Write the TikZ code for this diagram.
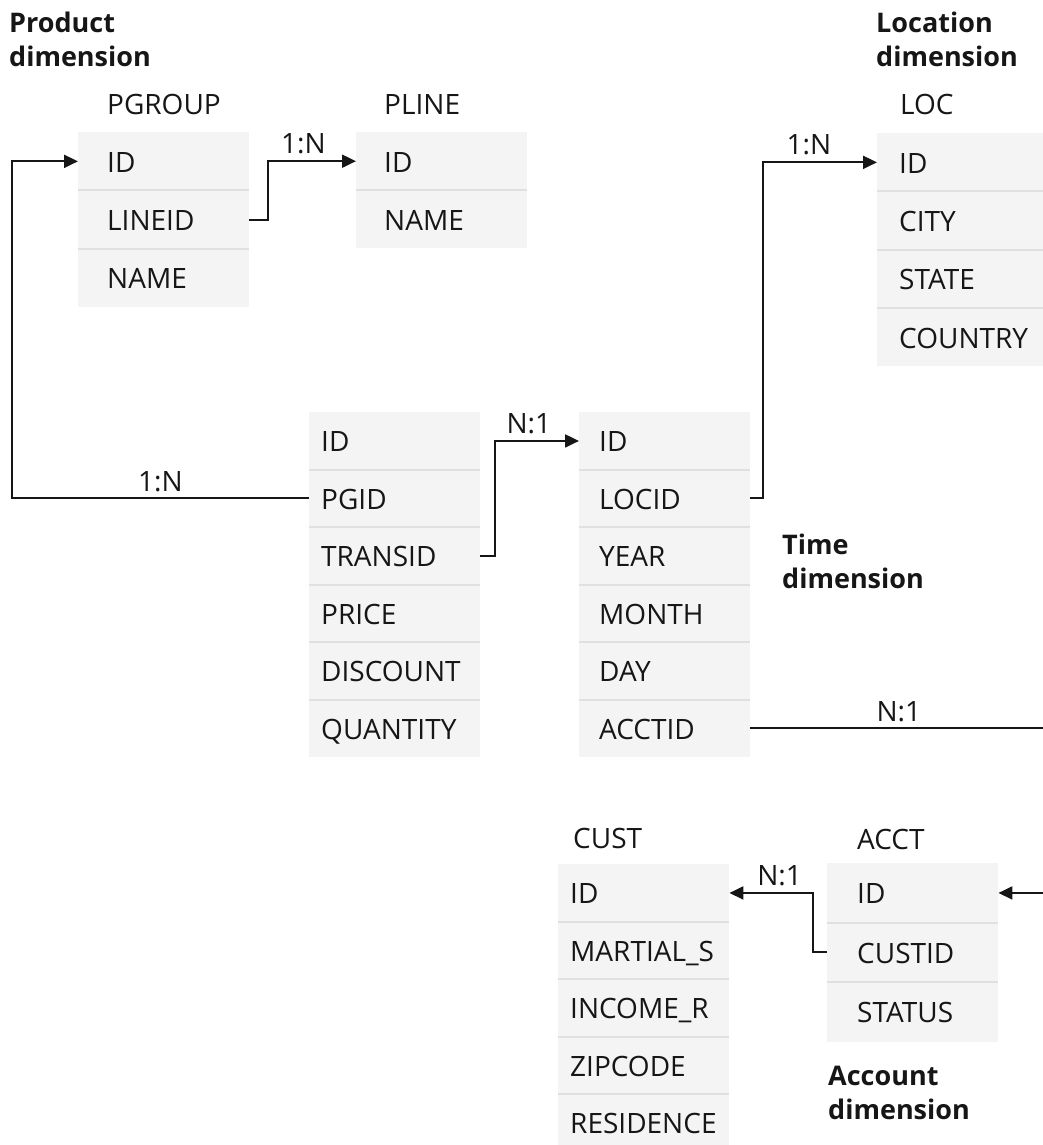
\documentclass[tikz,border=0pt]{standalone}
\usepackage{fontspec}
\setmainfont{Open Sans}
\usetikzlibrary{arrows.meta}
\definecolor{ink}{HTML}{161616}
\definecolor{rowfill}{HTML}{F4F4F4}
\definecolor{rowline}{HTML}{E0E0E0}
\tikzset{>={Triangle[length=14pt,width=13pt]},
  every node/.style={font=\fontsize{28}{32}\selectfont,text=ink},
  field/.style={fill=rowfill,anchor=north west,align=left,inner ysep=0pt,
    text height=22pt,text depth=0pt},
  sep/.style={draw=rowline,line width=2pt},
  link/.style={->,draw=ink,line width=2pt},
  card/.style={above,inner sep=6pt},
  tname/.style={anchor=base west,inner sep=0pt},
  dimlabel/.style={anchor=north west,inner sep=0pt,align=left,
    font=\fontsize{27}{34}\selectfont\bfseries}}

\begin{document}
\begin{tikzpicture}[x=1pt,y=-1pt]
\useasboundingbox (0,0) rectangle (1042,1145);
% product dimension
\node[dimlabel] (prodlbl) at (9,12) {Product\\dimension};
\node[tname] (pgname) at (107,114) {PGROUP};
\foreach \fld [count=\i] in {ID,LINEID,NAME}
  \node[field,inner xsep=29pt,text width=113pt,minimum height=58.3pt] (pg\i) at (78,{132+(\i-1)*58.3}) {\fld};
\foreach \i in {2,3} \draw[sep] (pg\i.north west) -- (pg\i.north east);
\node[tname] (plname) at (384,114) {PLINE};
\foreach \fld [count=\i] in {ID,NAME}
  \node[field,inner xsep=28pt,text width=115pt,minimum height=58pt] (pl\i) at (356,{132+(\i-1)*58}) {\fld};
\draw[sep] (pl2.north west) -- (pl2.north east);
% location dimension
\node[dimlabel] (loclbl) at (876,12) {Location\\dimension};
\node[tname] (locname) at (900,114) {LOC};
\foreach \fld [count=\i] in {ID,CITY,STATE,COUNTRY}
  \node[field,inner xsep=22pt,text width=127pt,minimum height=58.3pt] (loc\i) at (877,{133+(\i-1)*58.3}) {\fld};
\foreach \i in {2,3,4} \draw[sep] (loc\i.north west) -- (loc\i.north east);
% fact table
\foreach \fld [count=\i] in {ID,PGID,TRANSID,PRICE,DISCOUNT,QUANTITY}
  \node[field,inner xsep=12pt,text width=147pt,minimum height=57.5pt] (f\i) at (309,{412+(\i-1)*57.5}) {\fld};
\foreach \i in {2,...,6} \draw[sep] (f\i.north west) -- (f\i.north east);
% time dimension
\foreach \fld [count=\i] in {ID,LOCID,YEAR,MONTH,DAY,ACCTID}
  \node[field,inner xsep=20pt,text width=131pt,minimum height=57.5pt] (t\i) at (579,{412+(\i-1)*57.5}) {\fld};
\foreach \i in {2,...,6} \draw[sep] (t\i.north west) -- (t\i.north east);
\node[dimlabel] (timelbl) at (782,534) {Time\\dimension};
% account dimension
\node[tname] (custname) at (573,848) {CUST};
\foreach \fld [count=\i] in {ID,MARTIAL\_S,INCOME\_R,ZIPCODE,RESIDENCE}
  \node[field,inner xsep=12pt,text width=147pt,minimum height=57.5pt] (cu\i) at (558,{864+(\i-1)*57.5}) {\fld};
\foreach \i in {2,...,5} \draw[sep] (cu\i.north west) -- (cu\i.north east);
\node[tname] (acctname) at (857,849) {ACCT};
\foreach \fld [count=\i] in {ID,CUSTID,STATUS}
  \node[field,inner xsep=30pt,text width=111pt,minimum height=59.5pt] (ac\i) at (827,{863+(\i-1)*59.5}) {\fld};
\foreach \i in {2,3} \draw[sep] (ac\i.north west) -- (ac\i.north east);
\node[dimlabel] (acctlbl) at (828,1066) {Account\\dimension};
% joins
\draw[link] (f2.west) -- node[card]{1:N} ++(-297,0) |- (pg1.west);
\draw[link] (pg2.east) -- ++(19,0) |- node[card,pos=.7]{1:N} (pl1.west);
\draw[link] (f3.east) -- ++(15,0) |- node[card,pos=.7]{N:1} (t1.west);
\draw[link] (t2.east) -- ++(13,0) |- node[card,pos=.7]{1:N} (loc1.west);
\draw[link] (t6.east) -- node[card]{N:1} ++(297,0) |- (ac1.east);
\draw[link] (ac2.west) -- ++(-14,0) |- node[card,pos=.7]{N:1} (cu1.east);
\end{tikzpicture}
\end{document}
